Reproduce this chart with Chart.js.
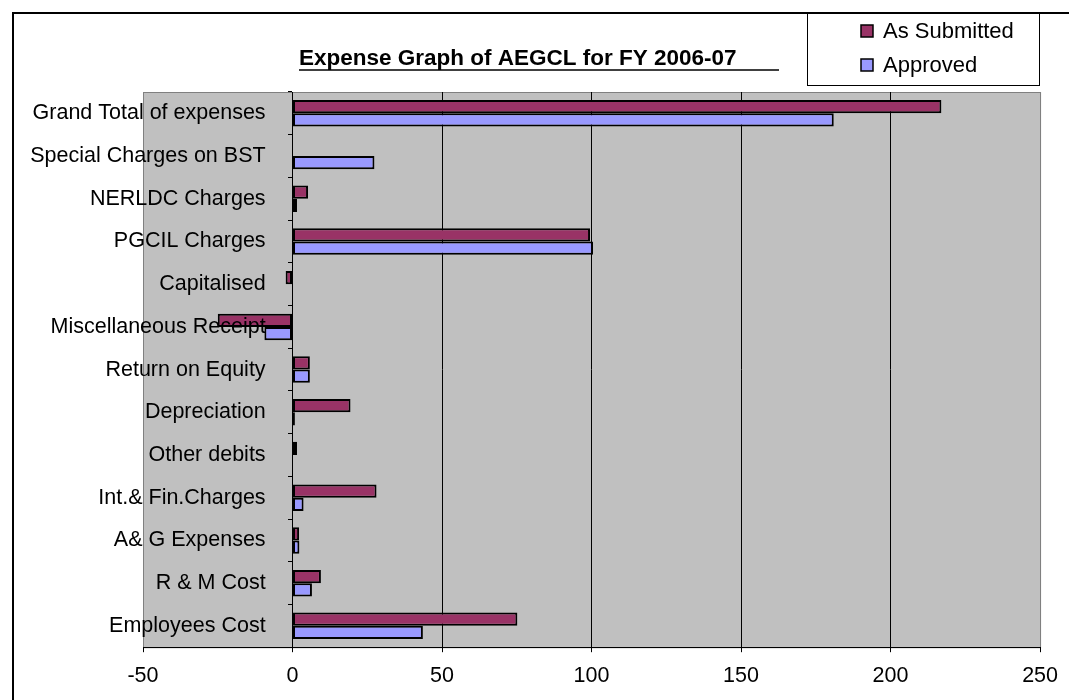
<!DOCTYPE html>
<html>
<head>
<meta charset="utf-8">
<title>Expense Graph of AEGCL</title>
<script src="https://cdn.jsdelivr.net/npm/chart.js@4"></script>
<style>
  body { margin: 0; background: #fff; }
</style>
</head>
<body>
<canvas id="expenseChart" width="1069" height="700"></canvas>
<script>
// Chart data (top to bottom, as shown)
const categories = [
  'Grand Total of expenses',
  'Special Charges on BST',
  'NERLDC Charges',
  'PGCIL Charges',
  'Capitalised',
  'Miscellaneous Receipt',
  'Return on Equity',
  'Depreciation',
  'Other debits',
  'Int.& Fin.Charges',
  'A& G Expenses',
  'R & M Cost',
  'Employees Cost'
];
const seriesNames = ['As Submitted', 'Approved'];
const asSubmitted = [217, null, 5.2, 99.5, -2.3, -25, 5.8, 19.4, 1.5, 28.1, 2.2, 9.5, 75.2];
const approved = [181, 27.4, 1.5, 100.5, null, -9.4, 5.8, 0.8, null, 3.7, 2.3, 6.5, 43.6];
const xTicks = [-50, 0, 50, 100, 150, 200, 250];
const chartTitle = 'Expense Graph of AEGCL for FY 2006-07';

const FONT = '"Liberation Sans", Arial, sans-serif';
Chart.defaults.font.family = FONT;
Chart.defaults.color = '#000';

// Grey plot area
const backgroundPlugin = {
  id: 'plotBackground',
  beforeDraw(chart) {
    const { ctx, chartArea: a } = chart;
    ctx.save();
    ctx.fillStyle = '#c0c0c0';
    ctx.fillRect(a.left, a.top, a.right - a.left, a.bottom - a.top);
    ctx.strokeStyle = '#808080';
    ctx.lineWidth = 1;
    ctx.strokeRect(a.left + 0.5, a.top + 0.5, a.right - a.left, a.bottom - a.top);
    ctx.restore();
  }
};

// Underlined title, boxed legend and outer frame, Excel style
const decorPlugin = {
  id: 'decor',
  afterDraw(chart) {
    const ctx = chart.ctx;
    ctx.save();
    // outer chart frame (runs off the picture on right and bottom)
    ctx.strokeStyle = '#000';
    ctx.lineWidth = 2;
    ctx.strokeRect(13, 13, 1200, 1000);

    // title
    ctx.font = 'bold 22.5px ' + FONT;
    ctx.fillStyle = '#000';
    ctx.textAlign = 'left';
    ctx.textBaseline = 'alphabetic';
    ctx.fillText(chartTitle, 299, 65);
    ctx.lineWidth = 1.5;
    ctx.beginPath();
    ctx.moveTo(299, 70);
    ctx.lineTo(779, 70);
    ctx.stroke();

    // legend box
    ctx.fillStyle = '#fff';
    ctx.fillRect(807, 13, 232, 72);
    ctx.lineWidth = 1;
    ctx.strokeStyle = '#000';
    ctx.strokeRect(807.5, 13.5, 232, 72);
    ctx.font = '22px ' + FONT;
    ctx.textBaseline = 'middle';
    chart.data.datasets.forEach((ds, i) => {
      const y = 31 + i * 34;
      ctx.fillStyle = ds.backgroundColor;
      ctx.fillRect(861, y - 6, 12, 12);
      ctx.strokeStyle = '#000';
      ctx.lineWidth = 1.5;
      ctx.strokeRect(861, y - 6, 12, 12);
      ctx.fillStyle = '#000';
      ctx.fillText(ds.label, 883, y + 1);
    });
    ctx.restore();
  }
};

const ctx = document.getElementById('expenseChart').getContext('2d');
const chart = new Chart(ctx, {
  type: 'bar',
  data: {
    labels: categories,
    datasets: [
      {
        label: seriesNames[0],
        data: asSubmitted,
        backgroundColor: '#993366',
        borderColor: '#000',
        borderWidth: 2,
        borderSkipped: false
      },
      {
        label: seriesNames[1],
        data: approved,
        backgroundColor: '#9999ff',
        borderColor: '#000',
        borderWidth: 2,
        borderSkipped: false
      }
    ]
  },
  options: {
    indexAxis: 'y',
    responsive: false,
    animation: false,
    layout: {
      padding: { left: 143, right: 28, top: 92, bottom: 0 }
    },
    categoryPercentage: 0.62,
    barPercentage: 1.0,
    scales: {
      x: {
        type: 'linear',
        min: -50,
        max: 250,
        afterBuildTicks: (scale) => {
          scale.ticks = xTicks.map(v => ({ value: v }));
        },
        ticks: {
          font: { size: 21.5 },
          color: '#000',
          padding: 11
        },
        grid: {
          color: (c) => (c.tick && (c.tick.value === -50 || c.tick.value === 250)) ? '#808080' : '#000',
          tickColor: '#000',
          tickLength: 5,
          lineWidth: 1
        },
        border: { color: '#000', width: 1 }
      },
      // category labels, drawn over the bars, just left of the zero line
      y: {
        type: 'category',
        position: { x: -9 },
        ticks: {
          z: 1,
          font: { size: 21.5 },
          color: '#000'
        },
        grid: { display: false },
        border: { display: false }
      },
      // category axis line with its tick marks at zero
      yAxisLine: {
        type: 'category',
        axis: 'y',
        position: { x: 0 },
        ticks: { display: false },
        grid: {
          drawOnChartArea: false,
          drawTicks: true,
          tickLength: 4,
          tickColor: '#000',
          offset: true
        },
        border: { color: '#000', width: 1 }
      }
    },
    plugins: {
      legend: { display: false },
      title: { display: false },
      tooltip: { enabled: false }
    }
  },
  plugins: [backgroundPlugin, decorPlugin]
});
</script>
</body>
</html>
